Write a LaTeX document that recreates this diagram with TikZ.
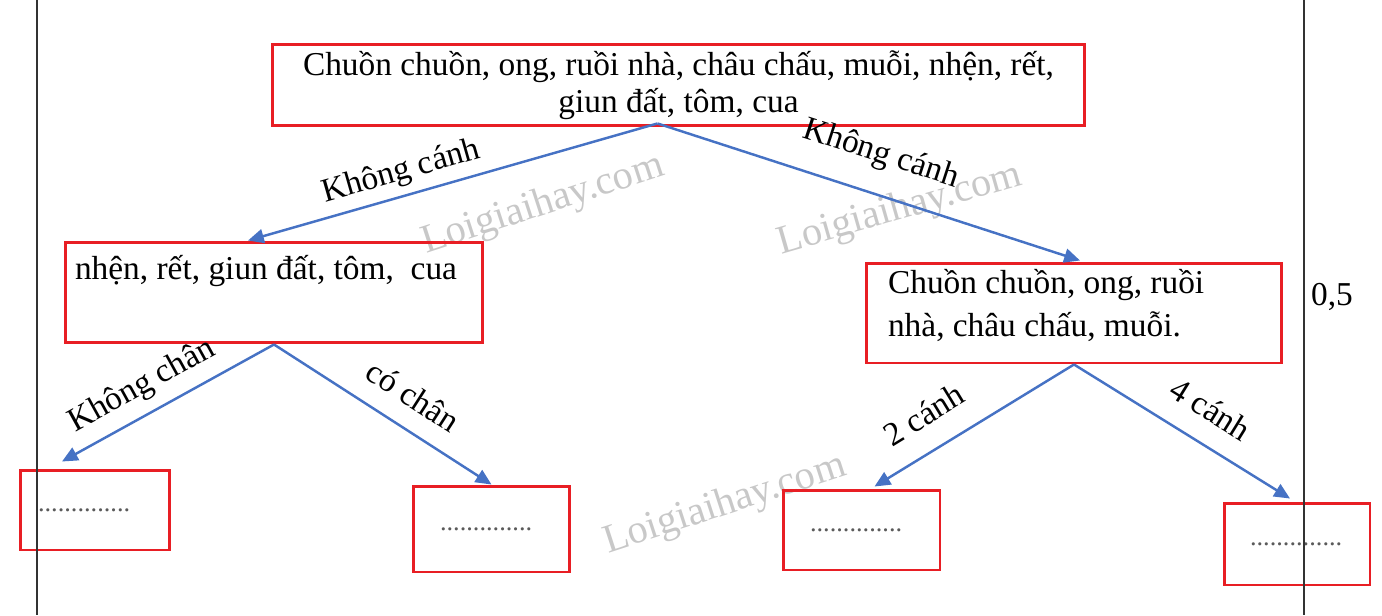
\documentclass[tikz,border=0pt]{standalone}
\usepackage{fontspec}
\setmainfont{Liberation Serif}
\usetikzlibrary{arrows.meta,calc}
\definecolor{boxred}{RGB}{232,30,36}
\definecolor{arrowblue}{RGB}{70,114,196}
\definecolor{wmgray}{RGB}{200,200,200}
\definecolor{dotgray}{RGB}{90,90,90}
\newcommand{\dotrow}{{\fontsize{15}{18}\selectfont\color{dotgray}..............}}
\begin{document}
\begin{tikzpicture}[x=0.02cm,y=-0.02cm,
  box/.style={draw=boxred,line width=1.7pt,inner sep=0pt,font=\fontsize{19}{21}\selectfont},
  arr/.style={draw=arrowblue,line width=1.4pt,-{Triangle[length=9pt,width=8pt]}},
  lab/.style={font=\fontsize{19}{22}\selectfont,sloped,inner sep=4pt},
  wm/.style={text=wmgray,font=\fontsize{23}{25}\selectfont},
  rule/.style={draw=black!80,line width=1.4pt}
]
\useasboundingbox (0,0) rectangle (1382,615);

% watermarks
\node[wm,rotate=18] (wm1) at (543,205) {Loigiaihay.com};
\node[wm,rotate=16] (wm2) at (900,210) {Loigiaihay.com};
\node[wm,rotate=18] (wm3) at (725,505) {Loigiaihay.com};

% boxes
\node[box,minimum width=16.26cm,minimum height=1.64cm,align=center] (top) at (678.5,85)
  {Chuồn chuồn, ong, ruồi nhà, châu chấu, muỗi, nhện, rết,\\ giun đất, tôm, cua};
\node[box] (L) at (274,292.5)
  {\parbox[c][2.02cm][t]{8.36cm}{\vspace*{0.26cm}\hspace*{0.2cm}nhện, rết, giun đất, tôm,~ cua}};
\node[box] (R) at (1074,313)
  {\parbox[c][2cm][t]{8.32cm}{\fontsize{19}{24.4}\selectfont\vspace*{0.12cm}\raggedright
   \hspace*{0.44cm}Chuồn chuồn, ong, ruồi\\ \hspace*{0.44cm}nhà, châu chấu, muỗi.}};
\node[box] (b1) at (95,510) {\parbox[c][1.6cm][c]{3cm}{\hspace*{0.36cm}\dotrow}};
\node[box] (b2) at (491.5,529) {\parbox[c][1.72cm][c]{3.14cm}{\hspace*{0.54cm}\dotrow}};
\node[box] (b3) at (861.5,530) {\parbox[c][1.6cm][c]{3.14cm}{\hspace*{0.54cm}\dotrow}};
\node[box] (b4) at (1297,544) {\parbox[c][1.64cm][c]{2.92cm}{\hspace*{0.52cm}\dotrow}};

% connectors
\draw[arr] ($(top.south)+(-21,-4)$) -- node[lab,above,pos=0.61]{Không cánh} ($(L.north)+(-26,0)$);
\draw[arr] ($(top.south)+(-21,-4)$) -- node[lab,above=9pt,pos=0.5]{Không cánh} ($(R.north)+(6,-1)$);
\draw[arr] (L.south) -- node[lab,above=2pt,pos=0.56]{Không chân} ($(b1.north)+(-33,-7)$);
\draw[arr] (L.south) -- node[lab,above=7pt,pos=0.56]{có chân} (b2.north);
\draw[arr] (R.south) -- node[lab,above=9pt,pos=0.66]{2 cánh} ($(b3.north)+(13,-2)$);
\draw[arr] (R.south) -- node[lab,above=8pt,pos=0.55]{4 cánh} ($(b4.north)+(-7,-3)$);

% side rules and score
\draw[rule] (37,0) -- (37,615);
\draw[rule] (1304,0) -- (1304,615);
\node[font=\fontsize{19}{22}\selectfont] (score) at (1332,297) {0,5};
\end{tikzpicture}
\end{document}
